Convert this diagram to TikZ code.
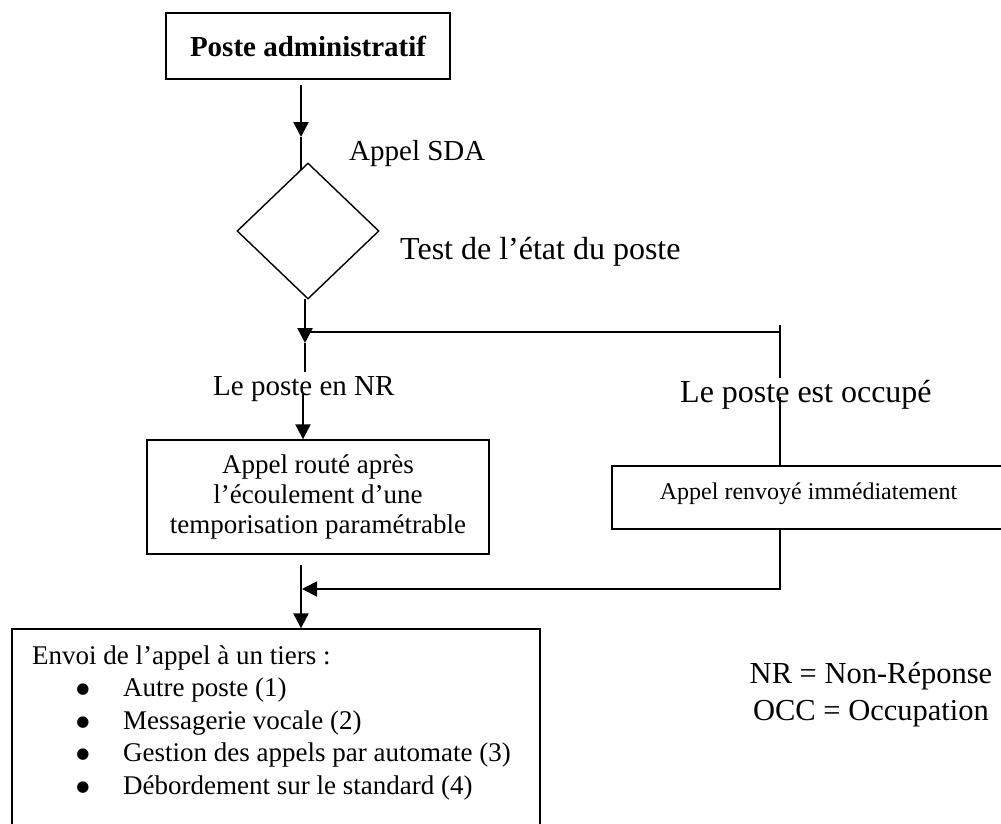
\documentclass[tikz,border=0pt]{standalone}
\usepackage{fontspec}
\setmainfont{Liberation Serif}
\newfontfamily\dejavu{DejaVu Sans}
\usetikzlibrary{arrows.meta,shapes.geometric}
\newcommand\myfs[1]{\fontsize{#1}{#1}\selectfont}
\newcommand\myfsb[2]{\fontsize{#1}{#2}\selectfont}
\begin{document}
\begin{tikzpicture}[x=1pt,y=-1pt,
  box/.style={draw, line width=1.4pt, inner sep=0pt},
  conn/.style={line width=2.2pt},
  thinline/.style={line width=1.5pt},
  arr/.style={-{Triangle[length=15pt,width=15pt]}},
  lbl/.style={anchor=base west, inner sep=0pt},
  ctr/.style={anchor=base, inner sep=0pt},
  bul/.style={anchor=base, inner sep=0pt, font=\dejavu\myfs{15}, yshift=2.3pt}]
\useasboundingbox (0,0) rectangle (1001,823);
\fill[white] (0,0) rectangle (1001,823);
\clip (0,0) rectangle (1001,823);

% boxes
\node[box, minimum width=284pt, minimum height=66pt, font=\myfs{29}\bfseries] (A) at (308,46) {Poste administratif};
\node[draw, diamond, line width=1.4pt, minimum width=142pt, minimum height=136pt, inner sep=0pt] (dia) at (308,231) {};
\node[box, minimum width=342pt, minimum height=114pt, align=center, font=\myfsb{27}{30}] (B) at (318,497)
  {Appel routé après\\l’écoulement d’une\\temporisation paramétrable};
\node[box, minimum width=393pt, minimum height=63pt] (C) at (808.5,497.5) {};
\node[ctr, font=\myfs{24}] (Ctext) at (808.5,499) {Appel renvoyé immédiatement};
\node[box, minimum width=528pt, minimum height=216pt] (D) at (276,737) {};

% texts of box D
\node[lbl, font=\myfs{27}] (D0) at (32,664) {Envoi de l’appel à un tiers :};
\node[bul] (b1) at (83,696) {●};
\node[lbl, font=\myfs{27}] (D1) at (123,696) {Autre poste (1)};
\node[bul] (b2) at (83,729) {●};
\node[lbl, font=\myfs{27}] (D2) at (123,729) {Messagerie vocale (2)};
\node[bul] (b3) at (83,761) {●};
\node[lbl, font=\myfs{27}] (D3) at (123,761) {Gestion des appels par automate (3)};
\node[bul] (b4) at (83,794) {●};
\node[lbl, font=\myfs{27}] (D4) at (123,794) {Débordement sur le standard (4)};

% labels
\node[lbl, font=\myfs{29}] (sda) at (349,160) {Appel SDA};
\node[lbl, font=\myfs{32}] (test) at (400,259) {Test de l’état du poste};
\node[lbl, font=\myfs{29}] (nr) at (213,395) {Le poste en NR};
\node[lbl, font=\myfs{32}] (occ) at (680,402) {Le poste est occupé};
\node[ctr, font=\myfs{30.5}] (leg1) at (871,683) {NR = Non-Réponse};
\node[ctr, font=\myfs{30.5}] (leg2) at (871,720) {OCC = Occupation};

% connectors
\coordinate (p1) at (301,85);
\coordinate (p1m) at (301,137);
\coordinate (p1e) at (301,170);
\draw[conn,arr] (p1) -- (p1m);
\draw[conn] (p1m) -- (p1e);

\coordinate (p2) at (305,299);
\coordinate (p2m) at (305,343);
\coordinate (p2e) at (305,372);
\draw[conn,arr] (p2) -- (p2m);
\draw[conn] (p2m) -- (p2e);

\coordinate (h1) at (305,332);
\coordinate (h2) at (780,332);
\draw[thinline] (h1) -- (h2);
\coordinate (s1) at (780,325);
\coordinate (s2) at (780,378);
\draw[thinline] (s1) -- (s2);

\coordinate (p3) at (303,393);
\draw[conn,arr] (p3) -- (p3 |- B.north);

\coordinate (p4) at (780,397);
\draw[thinline] (p4) -- (p4 |- C.north);

\coordinate (p5) at (780,589);
\coordinate (p6) at (302,589);
\draw[line width=1.9pt, arr] (p5 |- C.south) -- (p5) -- (p6);

\coordinate (p7) at (301,565);
\draw[conn,arr] (p7) -- (p7 |- D.north);
\end{tikzpicture}
\end{document}
